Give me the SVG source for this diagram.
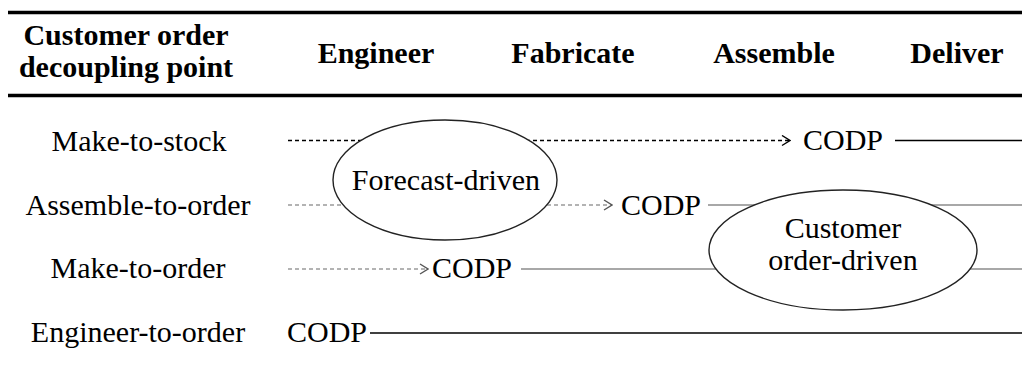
<svg xmlns="http://www.w3.org/2000/svg" width="1022" height="371" viewBox="0 0 1022 371" font-family="Liberation Serif, Times New Roman, DejaVu Serif, serif">
  <style>
    .hd { font-weight: bold; font-size: 30px; fill: #000; text-anchor: middle; }
    .tx { font-size: 30px; fill: #000; }
    .mid { text-anchor: middle; }
    .rule { stroke: #000; stroke-width: 3.5; fill: none; }
    .dash-k { stroke: #000; stroke-width: 1.3; stroke-dasharray: 4 3; fill: none; }
    .dash-g { stroke: #9a9a9a; stroke-width: 1.6; stroke-dasharray: 4 3; fill: none; }
    .solid-k { stroke: #000; stroke-width: 1.5; fill: none; }
    .solid-g { stroke: #a8a8a8; stroke-width: 2.2; fill: none; }
    .oval { fill: #fff; stroke: #222; stroke-width: 1.4; }
  </style>
  <defs>
    <marker id="chev-k" viewBox="0 0 10 12" refX="9" refY="6" markerWidth="10" markerHeight="12" markerUnits="userSpaceOnUse" orient="auto">
      <polyline points="1,1 9,6 1,11" fill="none" stroke="#000" stroke-width="1.4"/>
    </marker>
    <marker id="chev-g" viewBox="0 0 10 12" refX="9" refY="6" markerWidth="10" markerHeight="12" markerUnits="userSpaceOnUse" orient="auto">
      <polyline points="1,1 9,6 1,11" fill="none" stroke="#555" stroke-width="1.4"/>
    </marker>
  </defs>

  <rect width="1022" height="371" fill="#fff"/>

  <!-- table rules -->
  <line class="rule" x1="8" y1="12.5" x2="1022" y2="12.5"/>
  <line class="rule" x1="8" y1="95.5" x2="1022" y2="95.5"/>

  <!-- column headers -->
  <g id="header" font-family="Liberation Serif, serif">
    <text class="hd" x="126" y="45">Customer order</text>
    <text class="hd" x="126" y="77">decoupling point</text>
    <text class="hd" x="376" y="63">Engineer</text>
    <text class="hd" x="573" y="63">Fabricate</text>
    <text class="hd" x="774" y="63">Assemble</text>
    <text class="hd" x="957" y="63">Deliver</text>
  </g>

  <!-- row labels -->
  <g id="row-labels" font-family="Liberation Serif, serif">
    <text class="tx mid" x="139" y="151">Make-to-stock</text>
    <text class="tx mid" x="138" y="215">Assemble-to-order</text>
    <text class="tx mid" x="138" y="278">Make-to-order</text>
    <text class="tx mid" x="138" y="342">Engineer-to-order</text>
  </g>

  <!-- flow lines (ovals are drawn on top and mask them) -->
  <g id="connectors">
    <line class="dash-k" x1="288" y1="140.5" x2="790" y2="140.5" marker-end="url(#chev-k)"/>
    <line class="solid-k" x1="895" y1="140.5" x2="1022" y2="140.5"/>

    <line class="dash-g" x1="288" y1="205" x2="612" y2="205" marker-end="url(#chev-g)"/>
    <line class="solid-g" x1="708" y1="205" x2="1022" y2="205"/>

    <line class="dash-g" x1="288" y1="269" x2="428" y2="269" marker-end="url(#chev-g)"/>
    <line class="solid-g" x1="521" y1="269" x2="1022" y2="269"/>

    <line class="solid-k" x1="370" y1="333" x2="1022" y2="333"/>
  </g>

  <!-- decoupling point markers -->
  <g id="codp-mts" font-family="Liberation Serif, serif"><text class="tx" x="803" y="150">CODP</text></g>
  <g id="codp-ato" font-family="Liberation Serif, serif"><text class="tx" x="621" y="215">CODP</text></g>
  <g id="codp-mto" font-family="Liberation Serif, serif"><text class="tx" x="432" y="278">CODP</text></g>
  <g id="codp-eto" font-family="Liberation Serif, serif"><text class="tx" x="287" y="342">CODP</text></g>

  <!-- regions -->
  <g id="forecast-driven" font-family="Liberation Serif, serif">
    <ellipse class="oval" cx="445" cy="180" rx="112" ry="60"/>
    <text class="tx mid" x="446" y="190">Forecast-driven</text>
  </g>
  <g id="customer-order-driven" font-family="Liberation Serif, serif">
    <ellipse class="oval" cx="843" cy="250" rx="134" ry="60"/>
    <text class="tx mid" x="843" y="238">Customer</text>
    <text class="tx mid" x="843" y="270">order-driven</text>
  </g>
</svg>
